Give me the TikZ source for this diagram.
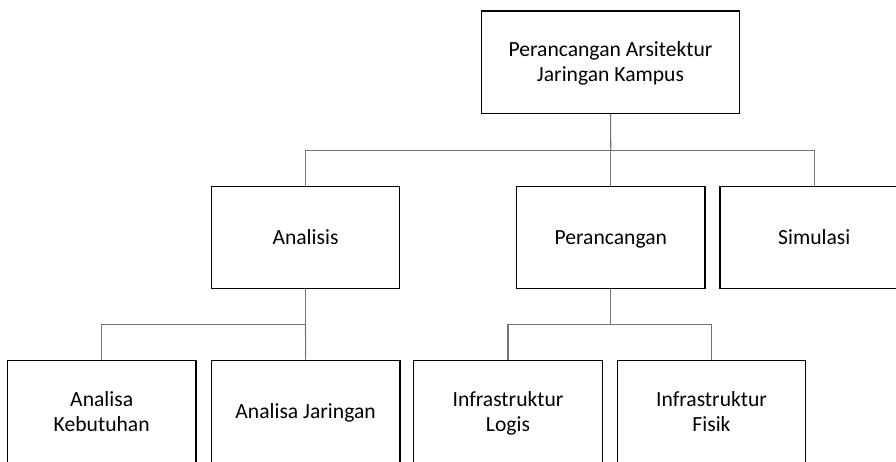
\documentclass[tikz,border=0pt]{standalone}
\usepackage{fontspec}
\setmainfont{Carlito}
\begin{document}
\begin{tikzpicture}[x=0.75pt,y=-0.75pt,
  box/.style={draw=black,line width=1.1pt,fill=white,inner sep=0pt,
    minimum width=188.5*0.75pt,minimum height=102.5*0.75pt,
    align=center,font=\fontsize{16.2pt}{18.75pt}\selectfont,
    text height=10.5pt,text depth=0pt},
  twoline/.style={text height=29.25pt,text depth=0pt},
  conn/.style={draw=black!55,line width=0.8pt}]
\useasboundingbox (0,0) rectangle (896,461);
\begin{scope}
\clip (0,0) rectangle (896,461);
\node[box,twoline,minimum width=257.5*0.75pt] (top) at (610.5,62.2) {Perancangan Arsitektur\\Jaringan Kampus};
\node[box] (an) at (305.5,237.5) {Analisis};
\node[box] (pr) at (610.8,237.5) {Perancangan};
\node[box] (si) at (814.3,237.5) {Simulasi};
\node[box,twoline] (ak) at (101.7,411.5) {Analisa\\Kebutuhan};
\node[box] (aj) at (305.6,411.5) {Analisa Jaringan};
\node[box,twoline] (il) at (508,411.5) {Infrastruktur\\Logis};
\node[box,twoline] (if) at (711.5,411.5) {Infrastruktur\\Fisik};
\coordinate (b1) at (610.8,150.7);
\coordinate (b2) at (305.5,324.7);
\coordinate (b3) at (610.8,324.5);
\draw[conn] (top.south) -- (b1);
\draw[conn] (b1) -| (an.north);
\draw[conn] (b1) -| (si.north);
\draw[conn] (b1) -- (pr.north);
\draw[conn] (an.south) -- (b2);
\draw[conn] (b2) -| (ak.north);
\draw[conn] (b2) -- (aj.north);
\draw[conn] (pr.south) -- (b3);
\draw[conn] (b3) -| (il.north);
\draw[conn] (b3) -| (if.north);
\end{scope}
\end{tikzpicture}
\end{document}
